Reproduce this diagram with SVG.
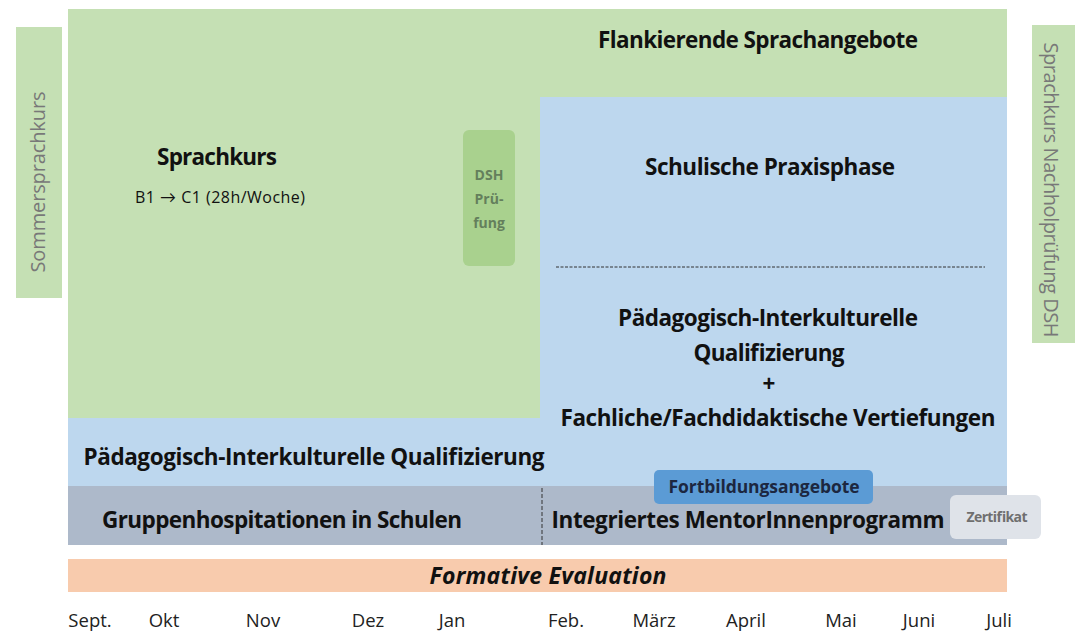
<svg xmlns="http://www.w3.org/2000/svg" width="1075" height="631" viewBox="0 0 1075 631">
<style>
text{font-family:"Open Sans",Lato,"Liberation Sans",sans-serif;fill:#111}
.b{font-weight:bold}
.c{text-anchor:middle}
.t{font-size:22.5px;font-weight:bold;text-anchor:middle}
.side{fill:#787878;font-size:20px;text-anchor:middle}
.m{font-size:18.5px;fill:#222;text-anchor:middle}
.dsh{font-size:14px;font-weight:bold;text-anchor:middle;fill:#647f5c}
</style>
<rect width="1075" height="631" fill="#fff"/>
<g id="flankierende">
<rect x="68" y="9" width="939" height="409" fill="#c5e0b4"/>
<text class="t" x="758" y="48" textLength="320">Flankierende Sprachangebote</text>
</g>
<g id="sprachkurs">
<text class="t" x="217" y="165" textLength="120">Sprachkurs</text>
<text class="c" x="220" y="203" font-size="16" textLength="170">B1 → C1 (28h/Woche)</text>
</g>
<g id="dsh">
<rect x="463" y="130" width="52" height="136" rx="6" fill="#a9d18e"/>
<text class="dsh" x="489" y="180">DSH</text>
<text class="dsh" x="489" y="204">Prü-</text>
<text class="dsh" x="489" y="228">fung</text>
</g>
<g id="sommer">
<rect x="16" y="27" width="46" height="271" fill="#c5e0b4"/>
<text class="side" transform="translate(45,182) rotate(-90)" textLength="181">Sommersprachkurs</text>
</g>
<g id="nachhol">
<rect x="1032" y="25" width="43" height="318" fill="#c5e0b4"/>
<text class="side" transform="translate(1044,190) rotate(90)" textLength="295">Sprachkurs Nachholprüfung DSH</text>
</g>
<g id="praxis">
<rect x="540" y="97" width="467" height="389" fill="#bdd7ee"/>
<text class="t" x="770" y="175" textLength="250">Schulische Praxisphase</text>
<line x1="556" y1="267" x2="985" y2="267" stroke="#333" stroke-width="1" stroke-dasharray="3,1.5"/>
<text class="t" x="768" y="326" textLength="300">Pädagogisch-Interkulturelle</text>
<text class="t" x="769" y="361" textLength="151">Qualifizierung</text>
<text class="t" x="769" y="392">+</text>
<text class="t" x="778" y="426" textLength="435">Fachliche/Fachdidaktische Vertiefungen</text>
</g>
<g id="paedagogisch">
<rect x="68" y="418" width="472" height="68" fill="#bdd7ee"/>
<text class="t" x="314" y="465" textLength="461">Pädagogisch-Interkulturelle Qualifizierung</text>
</g>
<g id="gruppen">
<rect x="68" y="486" width="939" height="59" fill="#adb9ca"/>
<text class="t" x="282" y="528" textLength="360">Gruppenhospitationen in Schulen</text>
</g>
<g id="mentor">
<text class="t" x="748" y="528" textLength="393">Integriertes MentorInnenprogramm</text>
</g>
<g id="fortbildung">
<rect x="654" y="470" width="219" height="34" rx="5" fill="#5b9bd5"/>
<text class="b c" x="764" y="493" font-size="17.5" textLength="191" style="fill:#1c2740">Fortbildungsangebote</text>
</g>
<g id="zertifikat">
<rect x="950" y="495" width="91" height="44" rx="6" fill="#dfe3e9"/>
<text class="b c" x="997" y="522" font-size="14" textLength="61" style="fill:#6f6f6f">Zertifikat</text>
</g>
<g id="evaluation">
<rect x="68" y="559" width="939" height="33" fill="#f8cbad"/>
<text class="b c" x="548" y="584" font-size="23" font-style="italic" textLength="237">Formative Evaluation</text>
</g>
<g id="connectors">
<line x1="542" y1="488" x2="542" y2="545" stroke="#333" stroke-width="1" stroke-dasharray="4,2"/>
</g>
<g id="months">
<text class="m" x="90" y="627">Sept.</text>
<text class="m" x="164" y="627">Okt</text>
<text class="m" x="263" y="627">Nov</text>
<text class="m" x="368" y="627">Dez</text>
<text class="m" x="452" y="627">Jan</text>
<text class="m" x="566" y="627">Feb.</text>
<text class="m" x="654" y="627">März</text>
<text class="m" x="746" y="627">April</text>
<text class="m" x="841" y="627">Mai</text>
<text class="m" x="919" y="627">Juni</text>
<text class="m" x="999" y="627">Juli</text>
</g>
</svg>
